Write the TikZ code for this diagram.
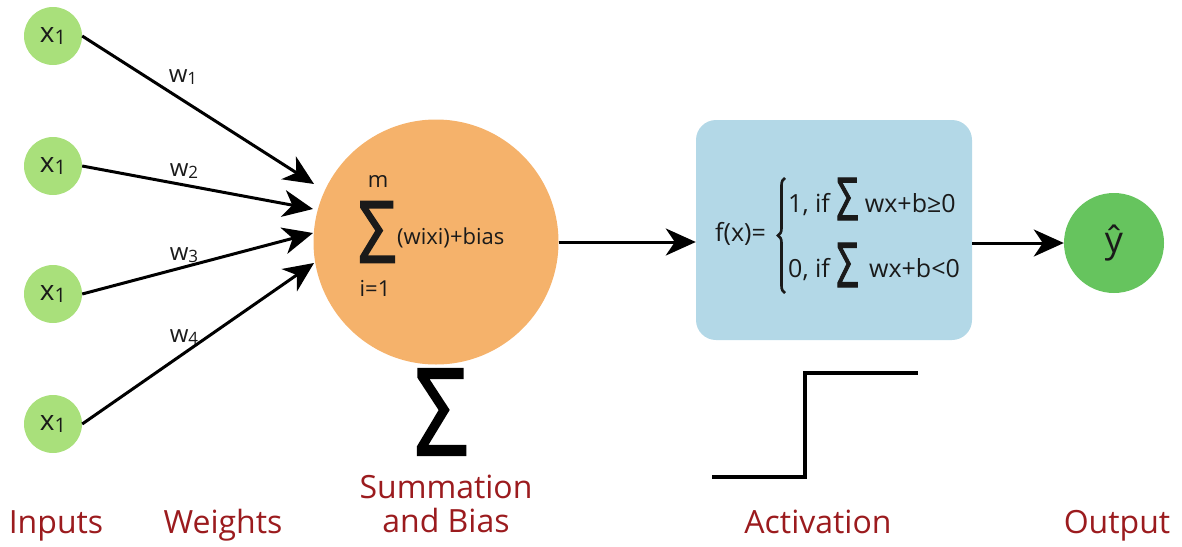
\documentclass[tikz,border=0pt]{standalone}
\usepackage{fontspec}
\setmainfont{Open Sans}
\newfontfamily\sigfont[FakeBold=2]{Open Sans}
\usepackage{graphicx}
\usetikzlibrary{arrows.meta,decorations.pathreplacing}
\definecolor{ingreen}{HTML}{A9E07B}
\definecolor{sumorange}{HTML}{F5B26B}
\definecolor{actblue}{HTML}{B3D8E7}
\definecolor{outgreen}{HTML}{66C45E}
\definecolor{labred}{HTML}{9B1B1E}
\definecolor{ink}{HTML}{1A1A1A}
\newcommand{\fsz}[1]{\fontsize{#1}{#1}\selectfont}
\newcommand{\lowsub}[2]{\raisebox{-2pt}{\fsz{#1}#2}}
\newcommand{\sig}[2]{\resizebox{#1}{#2}{\sigfont\fsz{60}Σ}}
\tikzset{
  inp/.style={circle, fill=ingreen, minimum size=58pt, inner sep=0pt, text=ink, font=\fsz{28}},
  wlab/.style={inner sep=0pt, text=ink, font=\fsz{24}},
  arr/.style={line width=3pt, draw=black, -{Stealth[length=30pt,width=27pt,inset=9pt]}},
  lab/.style={anchor=base, inner sep=0pt, text=labred, font=\fsz{32}},
  sumtxt/.style={inner sep=0pt, text=ink, font=\fsz{22}},
  boxtxt/.style={inner sep=0pt, anchor=base west, text=ink, font=\fsz{25}},
  stepline/.style={line width=4pt, line cap=butt, line join=miter},
}
\begin{document}
\begin{tikzpicture}[x=1pt,y=-1pt]
\useasboundingbox (0,0) rectangle (1182,546);

% input nodes
\node[inp] (in1) at (53,36)  {x\lowsub{20}{1}};
\node[inp] (in2) at (53,166) {x\lowsub{20}{1}};
\node[inp] (in3) at (53,294) {x\lowsub{20}{1}};
\node[inp] (in4) at (53,424) {x\lowsub{20}{1}};

% summation circle
\node[circle, fill=sumorange, minimum size=245pt, inner sep=0pt] (sum) at (436,242) {};
\node[sumtxt] (sm) at (378,182) {m};
\node[inner sep=0pt, text=ink] (ssig) at (377,232) {\sig{38pt}{61pt}};
\node[sumtxt, anchor=base] (si) at (375,296) {i=1};
\node[sumtxt, anchor=base west] (sterm) at (397,244) {(wixi)+bias};

% arrow tips at the summation
\coordinate (t1) at (314,184);
\coordinate (t2) at (313,209);
\coordinate (t3) at (313,233);
\coordinate (t4) at (314,263);

\draw[arr] (in1.east) -- (t1);
\draw[arr] (in2.east) -- (t2);
\draw[arr] (in3.east) -- (t3);
\draw[arr] (in4.east) -- (t4);

% weight labels
\node[wlab] (w1) at (183,77)  {w\lowsub{17}{1}};
\node[wlab] (w2) at (184,171) {w\lowsub{17}{2}};
\node[wlab] (w3) at (184,255) {w\lowsub{17}{3}};
\node[wlab] (w4) at (184,337) {w\lowsub{17}{4}};

% activation box
\node[rectangle, rounded corners=20pt, fill=actblue, minimum width=276pt, minimum height=220pt, inner sep=0pt] (act) at (834,230) {};
\node[boxtxt] (fx) at (715,241) {f(x)=};
\coordinate (bt) at (785,178);
\coordinate (bb) at (785,293);
\draw[decorate, decoration={brace, amplitude=7pt}, line width=2.6pt, draw=ink] (bb) -- (bt);
\node[boxtxt] (l1) at (788,212) {1, if \raisebox{-8pt}{\sig{22pt}{42pt}} wx+b≥0};
\node[boxtxt] (l2) at (788,277) {0, if \raisebox{-10pt}{\sig{22pt}{44pt}}\, wx+b<0};

% output
\node[circle, fill=outgreen, minimum size=100pt, inner sep=0pt, text=ink, font=\fsz{36}] (out) at (1114,243) {ŷ};

\draw[arr] (sum.east) -- (sum.east -| act.west);
\draw[arr] (act.east |- out.west) -- (out.west);

% big sigma and step function
\node[inner sep=0pt] (bigsig) at (441,412) {\sig{53pt}{86pt}};
\coordinate (s0) at (712,477);
\coordinate (s1) at (805,477);
\coordinate (s2) at (805,373);
\coordinate (s3) at (918,373);
\draw[stepline] (s0) -- (s1) -- (s2) -- (s3);

% labels
\node[lab] (linputs) at (56,533) {Inputs};
\node[lab] (lweights) at (223,533) {Weights};
\node[lab] (lsum1) at (446,498) {Summation};
\node[lab] (lsum2) at (446,532) {and Bias};
\node[lab] (lact) at (818,533) {Activation};
\node[lab] (lout) at (1117,533) {Output};
\end{tikzpicture}
\end{document}
